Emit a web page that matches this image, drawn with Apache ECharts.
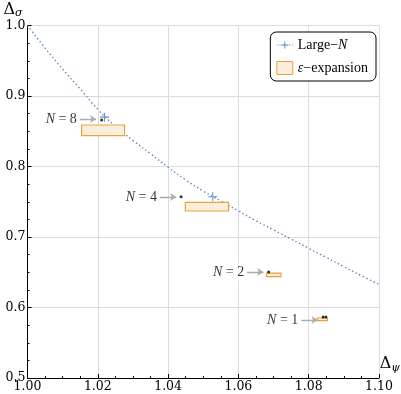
<!DOCTYPE html>
<html>
<head>
<meta charset="utf-8">
<script src="https://cdn.jsdelivr.net/npm/echarts@6/dist/echarts.min.js"></script>
<style>
  html, body { margin: 0; padding: 0; background: #fff; }
  #main { width: 401px; height: 394px; }
</style>
</head>
<body>
<div id="main"></div>
<script>
// large-N curve
const curveX = [1.000, 1.005, 1.010, 1.015, 1.020, 1.025, 1.030, 1.035, 1.040, 1.045, 1.050,
                1.055, 1.060, 1.065, 1.070, 1.075, 1.080, 1.085, 1.090, 1.095, 1.100];
const curveY = [1.000, 0.968, 0.938, 0.910, 0.881, 0.857, 0.837, 0.818, 0.799, 0.781, 0.765,
                0.751, 0.737, 0.723, 0.710, 0.697, 0.684, 0.671, 0.658, 0.645, 0.633];

// large-N markers (+)
const largeNX = [1.0219, 1.0527];
const largeNY = [0.870, 0.757];

// small black points
const dotX = [1.0211, 1.0437, 1.0686, 1.0841, 1.0849];
const dotY = [0.866, 0.757, 0.6504, 0.5865, 0.5865];

// epsilon-expansion boxes: x range, y range
const epsXMin = [1.0154, 1.0449, 1.0680, 1.0824];
const epsXMax = [1.0276, 1.0572, 1.0721, 1.0853];
const epsYMin = [0.8437, 0.7369, 0.6437, 0.5813];
const epsYMax = [0.8589, 0.7492, 0.6489, 0.5851];

// N labels and arrow tips
const nValues = ['8', '4', '2', '1'];
const tipX = [1.0195, 1.0423, 1.0671, 1.0825];
const tipY = [0.8674, 0.7567, 0.6504, 0.5823];
const arrowLen = 0.0046;

const serif = 'DejaVu Serif';
const textSerif = 'Liberation Serif';
const plusPath = 'path://M4.4,0H5.6V4.4H10V5.6H5.6V10H4.4V5.6H0V4.4H4.4Z';
// legend icon: dotted line with a plus in the middle
const legendPlus = 'path://M0,4.5h1v1h-1zM3,4.5h1v1h-1zM14,4.5h1v1h-1zM17,4.5h1v1h-1z' +
                   'M8.5,1H9.5V4.5H13V5.5H9.5V9H8.5V5.5H5V4.5H8.5Z';

const chart = echarts.init(document.getElementById('main'));

const option = {
    backgroundColor: '#fff',
    animation: false,
    grid: { left: 27.5, right: 22, top: 25.5, bottom: 16, containLabel: false, outerBoundsMode: 'none' },
    graphic: [
        {
            // x axis title, to the right of the axis end
            type: 'text',
            right: 1,
            top: 356,
            style: {
                text: '{d|Δ}{s|ψ}',
                rich: {
                    d: { fontFamily: serif, fontSize: 16, fill: '#000' },
                    s: { fontFamily: serif, fontSize: 11, fontStyle: 'italic', fill: '#000', padding: [8, 0, 0, 0] }
                }
            }
        }
    ],
    legend: {
        orient: 'vertical',
        right: 25,
        top: 32,
        padding: [6, 8, 6, 6],
        itemGap: 9,
        itemWidth: 16,
        itemHeight: 13,
        backgroundColor: '#fff',
        borderColor: '#000',
        borderWidth: 1,
        borderRadius: 6,
        textStyle: {
            fontFamily: textSerif,
            fontSize: 14,
            color: '#000',
            rich: {
                r: { fontFamily: textSerif, fontSize: 14 },
                i: { fontFamily: textSerif, fontSize: 14, fontStyle: 'italic' }
            }
        },
        formatter: name => name === 'Large-N' ? '{r|Large−}{i|N}' : '{i|ε}{r|−expansion}',
        data: [
            { name: 'Large-N', icon: legendPlus, itemStyle: { color: '#4f7cc4' } },
            { name: 'eps', icon: 'rect', itemStyle: { color: '#fbeedd', borderColor: '#e9a33a', borderWidth: 1 } }
        ]
    },
    xAxis: {
        type: 'value',
        min: 1.0,
        max: 1.1,
        interval: 0.02,
        axisLine: { onZero: false, lineStyle: { color: '#000', width: 1 } },
        axisTick: { inside: true, length: 4, lineStyle: { color: '#000' } },
        minorTick: { show: true, splitNumber: 4, length: 2, lineStyle: { color: '#000' } },
        splitLine: { show: true, lineStyle: { color: '#dcdcdc', width: 1 } },
        axisLabel: {
            fontFamily: serif, fontSize: 12.5, color: '#000', margin: 2,
            formatter: v => v.toFixed(2)
        }
    },
    yAxis: {
        type: 'value',
        min: 0.5,
        max: 1.0,
        interval: 0.1,
        name: '{d|Δ}{s|σ}',
        nameLocation: 'end',
        nameGap: 1,
        nameTextStyle: {
            align: 'left',
            padding: [0, 0, 0, -24],
            rich: {
                d: { fontFamily: serif, fontSize: 16, color: '#000' },
                s: { fontFamily: serif, fontSize: 11, fontStyle: 'italic', color: '#000', padding: [7, 0, 0, 0] }
            }
        },
        axisLine: { onZero: false, lineStyle: { color: '#000', width: 1 } },
        axisTick: { inside: true, length: 4, lineStyle: { color: '#000' } },
        minorTick: { show: true, splitNumber: 4, length: 2, lineStyle: { color: '#000' } },
        splitLine: { show: true, lineStyle: { color: '#dcdcdc', width: 1 } },
        axisLabel: {
            fontFamily: serif, fontSize: 12.5, color: '#000', margin: 2,
            formatter: v => v.toFixed(1)
        }
    },
    series: [
        {
            name: 'Large-N',
            type: 'line',
            data: curveX.map((x, i) => [x, curveY[i]]),
            showSymbol: false,
            smooth: true,
            lineStyle: { type: [1.5, 2.5], color: '#5b83c6', width: 1.3 },
            z: 2
        },
        {
            name: 'eps',
            type: 'custom',
            data: epsXMin.map((x, i) => [x, epsXMax[i], epsYMin[i], epsYMax[i]]),
            renderItem: function (params, api) {
                const p0 = api.coord([api.value(0), api.value(3)]);
                const p1 = api.coord([api.value(1), api.value(2)]);
                return {
                    type: 'rect',
                    shape: { x: p0[0], y: p0[1], width: p1[0] - p0[0], height: p1[1] - p0[1] },
                    style: { fill: '#fbeedd', stroke: '#e9a33a', lineWidth: 1.2 }
                };
            },
            itemStyle: { color: '#fbeedd', borderColor: '#e9a33a' },
            z: 3
        },
        {
            name: 'Large-N',
            type: 'scatter',
            data: largeNX.map((x, i) => [x, largeNY[i]]),
            symbol: plusPath,
            symbolSize: 9,
            itemStyle: { color: '#4f7cc4' },
            z: 5
        },
        {
            name: 'dots',
            type: 'scatter',
            data: dotX.map((x, i) => [x, dotY[i]]),
            symbolSize: 3,
            itemStyle: { color: '#000' },
            z: 6
        },
        {
            name: 'arrows',
            type: 'lines',
            coordinateSystem: 'cartesian2d',
            symbol: ['none', 'arrow'],
            symbolSize: 6,
            lineStyle: { color: '#ababab', width: 1.3, opacity: 1 },
            data: tipX.map((x, i) => ({ coords: [[x - arrowLen, tipY[i]], [x, tipY[i]]] })),
            z: 4
        },
        {
            name: 'labels',
            type: 'scatter',
            symbolSize: 0,
            data: tipX.map((x, i) => ({ value: [x - arrowLen, tipY[i]], n: nValues[i] })),
            label: {
                show: true,
                position: 'left',
                distance: 1,
                backgroundColor: '#fff',
                padding: [2, 2, 1, 3],
                formatter: p => '{i|N}{r| = ' + p.data.n + '}',
                rich: {
                    i: { fontFamily: textSerif, fontSize: 14, fontStyle: 'italic', color: '#000' },
                    r: { fontFamily: textSerif, fontSize: 14, color: '#000' }
                }
            },
            silent: true,
            z: 7
        }
    ]
};

chart.setOption(option);
</script>
</body>
</html>
